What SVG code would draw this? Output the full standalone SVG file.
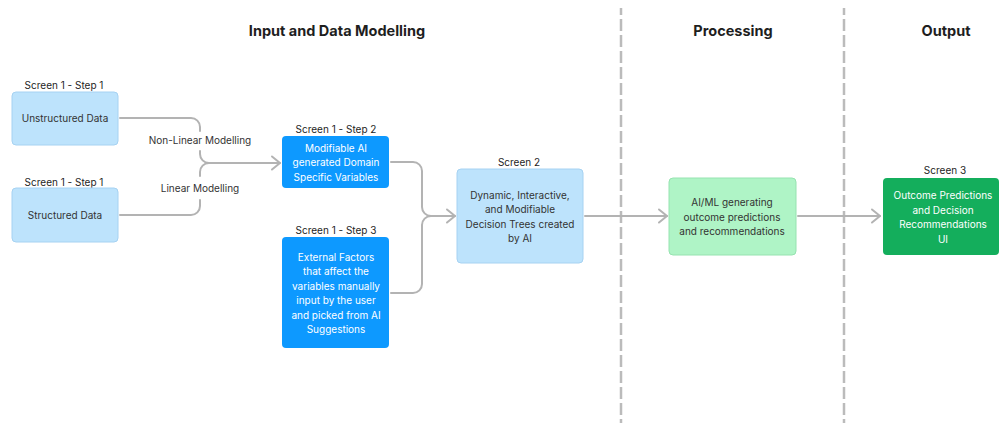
<svg xmlns="http://www.w3.org/2000/svg" width="1000" height="423" viewBox="0 0 1000 423">
  <defs>
    <marker id="chev" markerUnits="userSpaceOnUse" markerWidth="20" markerHeight="20" refX="10" refY="10" orient="auto" overflow="visible">
      <path d="M2,3.5 L10,10 L2,16.5" fill="none" stroke="#b3b3b3" stroke-width="2" stroke-linecap="round" stroke-linejoin="round"/>
    </marker>
    <style>
      .hdr { font-family: Inter, "Liberation Sans", sans-serif; font-size: 14.5px; font-weight: 700; fill: #1e1e1e; text-anchor: middle; }
      .cap { font-family: Inter, "Liberation Sans", sans-serif; font-size: 10px; fill: #1e1e1e; text-anchor: middle; }
      .txt { font-family: Inter, "Liberation Sans", sans-serif; font-size: 10px; fill: #333333; text-anchor: middle; }
      .wtxt { font-family: Inter, "Liberation Sans", sans-serif; font-size: 10px; fill: #ffffff; text-anchor: middle; }
      .lbl { font-family: Inter, "Liberation Sans", sans-serif; font-size: 10px; fill: #333333; text-anchor: middle; }
      .lightblue { fill: #bde3fc; stroke: #a6d2f2; stroke-width: 1; }
      .blue { fill: #0d99ff; }
      .lightgreen { fill: #aff4c6; stroke: #96e3b0; stroke-width: 1; }
      .green { fill: #14ae5c; }
      .conn { fill: none; stroke: #b3b3b3; stroke-width: 2; stroke-linecap: round; }
      .divider { stroke: #bbbbbb; stroke-width: 2.5; stroke-dasharray: 12 4; }
    </style>
  </defs>

  <rect width="1000" height="423" fill="#ffffff"/>

  <!-- section dividers -->
  <g id="dividers">
    <line class="divider" x1="621" y1="8" x2="621" y2="423" stroke-dashoffset="5"/>
    <line class="divider" x1="844" y1="8" x2="844" y2="423" stroke-dashoffset="5"/>
  </g>

  <!-- section headings -->
  <g id="headings">
    <text class="hdr" x="337" y="36">Input and Data Modelling</text>
    <text class="hdr" x="733" y="36">Processing</text>
    <text class="hdr" x="946" y="36">Output</text>
  </g>

  <!-- connectors -->
  <g id="connectors">
    <path class="conn" d="M120,118 H191 A9,9 0 0 1 200,127 V131"/>
    <path class="conn" d="M200,151 V154 A9,9 0 0 0 209,163 H280" marker-end="url(#chev)"/>
    <path class="conn" d="M200,176 V172 A9,9 0 0 1 209,163"/>
    <path class="conn" d="M120,215 H191 A9,9 0 0 0 200,206 V200"/>
    <text class="lbl" x="200" y="144">Non-Linear Modelling</text>
    <text class="lbl" x="200" y="192">Linear Modelling</text>

    <path class="conn" d="M391,162 H413 A9,9 0 0 1 422,171 V207 A9,9 0 0 0 431,216 H455" marker-end="url(#chev)"/>
    <path class="conn" d="M391,293 H413 A9,9 0 0 0 422,284 V225 A9,9 0 0 1 431,216"/>

    <path class="conn" d="M585,216 H667" marker-end="url(#chev)"/>
    <path class="conn" d="M798,216 H880" marker-end="url(#chev)"/>
  </g>

  <g id="unstructured">
    <text class="cap" x="64" y="89">Screen 1 - Step 1</text>
    <rect class="lightblue" x="12" y="92" width="106" height="53" rx="4"/>
    <text class="txt" x="65" y="122">Unstructured Data</text>
  </g>

  <g id="structured">
    <text class="cap" x="64" y="186">Screen 1 - Step 1</text>
    <rect class="lightblue" x="12" y="188" width="106" height="54" rx="4"/>
    <text class="txt" x="65" y="219">Structured Data</text>
  </g>

  <g id="variables">
    <text class="cap" x="336" y="133">Screen 1 - Step 2</text>
    <rect class="blue" x="282" y="136" width="107" height="52" rx="4"/>
    <text class="wtxt" x="336" y="151.5">Modifiable AI</text>
    <text class="wtxt" x="336" y="166">generated Domain</text>
    <text class="wtxt" x="336" y="180.5">Specific Variables</text>
  </g>

  <g id="external-factors">
    <text class="cap" x="336" y="234">Screen 1 - Step 3</text>
    <rect class="blue" x="282" y="237" width="107" height="111" rx="4"/>
    <text class="wtxt" x="336" y="260.5">External Factors</text>
    <text class="wtxt" x="336" y="275">that affect the</text>
    <text class="wtxt" x="336" y="289.5">variables manually</text>
    <text class="wtxt" x="336" y="304">input by the user</text>
    <text class="wtxt" x="336" y="318.5">and picked from AI</text>
    <text class="wtxt" x="336" y="333">Suggestions</text>
  </g>

  <g id="decision-trees">
    <text class="cap" x="519" y="166">Screen 2</text>
    <rect class="lightblue" x="457" y="169" width="126" height="94" rx="4"/>
    <text class="txt" x="520" y="198.5">Dynamic, Interactive,</text>
    <text class="txt" x="520" y="213">and Modifiable</text>
    <text class="txt" x="520" y="227.5">Decision Trees created</text>
    <text class="txt" x="520" y="242">by AI</text>
  </g>

  <g id="ai-ml">
    <rect class="lightgreen" x="669" y="178" width="127" height="77" rx="4"/>
    <text class="txt" x="732" y="206">AI/ML generating</text>
    <text class="txt" x="732" y="220.5">outcome predictions</text>
    <text class="txt" x="732" y="235">and recommendations</text>
  </g>

  <g id="recommendations-ui">
    <text class="cap" x="945" y="174">Screen 3</text>
    <rect class="green" x="883" y="178" width="116" height="77" rx="4"/>
    <text class="wtxt" x="943" y="199">Outcome Predictions</text>
    <text class="wtxt" x="943" y="213.5">and Decision</text>
    <text class="wtxt" x="943" y="228">Recommendations</text>
    <text class="wtxt" x="943" y="242.5">UI</text>
  </g>
</svg>
